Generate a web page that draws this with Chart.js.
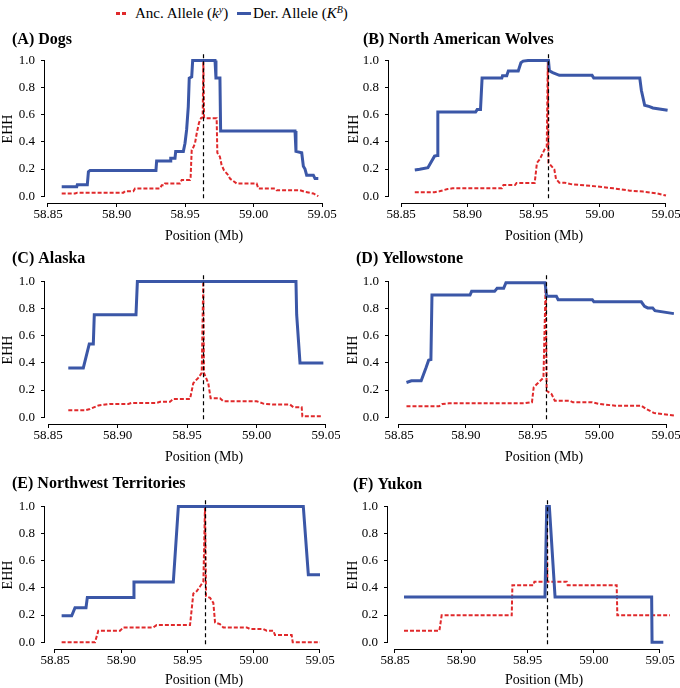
<!DOCTYPE html>
<html>
<head>
<meta charset="utf-8">
<script src="https://cdn.jsdelivr.net/npm/chart.js@4.4.0/dist/chart.umd.min.js"></script>
<style>
  html, body { margin: 0; padding: 0; background: #fff; }
  #fig { position: relative; width: 680px; height: 688px; overflow: hidden; font-family: "Liberation Serif", "Times New Roman", serif; color: #000; }
  #fig canvas { position: absolute; }
  .lg { position: absolute; white-space: nowrap; }
  .lgText { top: 3px; font-size: 15px; line-height: 20px; }
  .lgText sup { font-size: 10px; vertical-align: 5px; line-height: 0; }
  #ancKey { left: 116px; top: 12px; width: 12px; height: 2.5px;
    background: repeating-linear-gradient(90deg, #e0292b 0 4px, transparent 4px 6px); }
  #derKey { left: 237px; top: 11.5px; width: 14px; height: 3px; background: #3b57a7; }
</style>
</head>
<body>
<div id="fig">
  <div class="lg" id="ancKey"></div>
  <div class="lg lgText" style="left:135px">Anc. Allele (<i>k</i><sup><i>y</i></sup>)</div>
  <div class="lg" id="derKey"></div>
  <div class="lg lgText" style="left:253px">Der. Allele (<i>K</i><sup><i>B</i></sup>)</div>
</div>
<script>
// axis ticks
const xTicks = [58.85, 58.90, 58.95, 59.00, 59.05];
const yTicks = [0, 0.2, 0.4, 0.6, 0.8, 1.0];

const panelTitles = ['(A) Dogs', '(B) North American Wolves', '(C) Alaska',
  '(D) Yellowstone', '(E) Northwest Territories', '(F) Yukon'];
// core SNP position (dashed line), Mb
const corePos = [58.9634, 58.9608, 58.9617, 58.9599, 58.9632, 58.9650];

// (A) Dogs
const dogsDerPos = [58.860, 58.871, 58.8714, 58.8787, 58.8795, 58.8807, 58.9288, 58.9293, 58.9391, 58.9396,
  58.9427, 58.9432, 58.9488, 58.9500, 58.9512, 58.9524, 58.9531, 58.9549, 58.9556, 58.9719, 58.9726, 58.9755,
  58.9760, 59.0303, 59.0310, 59.0352, 59.0364, 59.0376, 59.0388, 59.0437, 59.0449, 59.0473];
const dogsDerEhh = [0.07, 0.07, 0.085, 0.085, 0.18, 0.19, 0.19, 0.26, 0.26, 0.28,
  0.28, 0.33, 0.33, 0.39, 0.49, 0.66, 0.87, 0.88, 1.0, 1.0, 0.87, 0.87,
  0.48, 0.48, 0.33, 0.32, 0.22, 0.20, 0.155, 0.155, 0.13, 0.13];
const dogsAncPos = [58.860, 58.8697, 58.8714, 58.9050, 58.9062, 58.9123, 58.9135, 58.9318, 58.9330, 58.9347,
  58.9354, 58.9464, 58.9476, 58.9536, 58.9541, 58.9549, 58.9561, 58.9573, 58.9585, 58.9602, 58.9617, 58.9629,
  58.9634, 58.9639, 58.9646, 58.9731, 58.9736, 58.9755, 58.9767, 58.9785, 58.9816, 58.9828, 58.9877, 59.0023,
  59.0035, 59.0157, 59.0169, 59.0339, 59.0376, 59.0437, 59.0473];
const dogsAncEhh = [0.02, 0.02, 0.025, 0.025, 0.037, 0.037, 0.057, 0.057, 0.08, 0.08,
  0.094, 0.094, 0.12, 0.12, 0.14, 0.34, 0.36, 0.39, 0.46, 0.54, 0.575, 0.58,
  1.0, 0.58, 0.575, 0.575, 0.32, 0.29, 0.23, 0.19, 0.155, 0.13, 0.094, 0.094,
  0.057, 0.057, 0.044, 0.044, 0.032, 0.02, 0.0];

// (B) North American Wolves
const nawDerPos = [58.8604, 58.8641, 58.8703, 58.8753, 58.8773, 58.8778, 58.9063, 58.9075, 58.9100, 58.9112,
  58.9261, 58.9266, 58.9298, 58.9310, 58.9385, 58.9405, 58.9422, 58.9459, 58.9613, 58.9620, 58.9645, 58.9695,
  58.9942, 58.9955, 59.0302, 59.0314, 59.0339, 59.0376, 59.0401, 59.0512];
const nawDerEhh = [0.193, 0.198, 0.21, 0.295, 0.30, 0.62, 0.62, 0.638, 0.638, 0.87,
  0.87, 0.887, 0.887, 0.923, 0.923, 0.983, 0.995, 1.0, 1.0, 0.923, 0.91, 0.89,
  0.89, 0.87, 0.87, 0.78, 0.67, 0.66, 0.65, 0.633];
const nawAncPos = [58.8604, 58.8753, 58.8790, 58.8852, 58.8889, 58.9261, 58.9273, 58.9360, 58.9372, 58.9509,
  58.9526, 58.9546, 58.9583, 58.9600, 58.9608, 58.9613, 58.9657, 58.9670, 58.9695, 58.9732, 58.9781, 58.9930,
  59.0103, 59.0227, 59.0327, 59.0426, 59.0500];
const nawAncEhh = [0.029, 0.029, 0.036, 0.053, 0.058, 0.058, 0.082, 0.082, 0.097, 0.097,
  0.246, 0.27, 0.343, 0.36, 1.0, 0.246, 0.198, 0.126, 0.10, 0.10, 0.089, 0.077,
  0.058, 0.041, 0.034, 0.022, 0.005];

// (C) Alaska
const alaskaDerPos = [58.8646, 58.8754, 58.8797, 58.8826, 58.8833, 58.9133, 58.9143, 59.0284, 59.0289, 59.0313, 59.0481];
const alaskaDerEhh = [0.363, 0.363, 0.54, 0.54, 0.755, 0.755, 1.0, 1.0, 0.755, 0.40, 0.40];
const alaskaAncPos = [58.8646, 58.8766, 58.8802, 58.8862, 58.8946, 58.9078, 58.9102, 58.9282, 58.9306, 58.9378,
  58.9401, 58.9522, 58.9545, 58.9581, 58.9606, 58.9617, 58.9622, 58.9653, 58.9670, 58.9737, 58.9761, 59.0001,
  59.0049, 59.0121, 59.0241, 59.0265, 59.0325, 59.0330, 59.0469];
const alaskaAncEhh = [0.051, 0.051, 0.061, 0.086, 0.098, 0.098, 0.105, 0.105, 0.113, 0.113,
  0.135, 0.135, 0.25, 0.29, 0.326, 1.0, 0.326, 0.25, 0.14, 0.14, 0.118, 0.118,
  0.10, 0.093, 0.093, 0.074, 0.074, 0.007, 0.007];

// (D) Yellowstone
const ystDerPos = [58.8556, 58.8593, 58.8666, 58.8703, 58.8722, 58.8739, 58.8747, 58.9032, 58.9044, 58.9216,
  58.9235, 58.9284, 58.9301, 58.9594, 58.9606, 58.9679, 58.9692, 58.9948, 58.9960, 59.0315, 59.0339, 59.0363,
  59.0400, 59.0417, 59.0559];
const ystDerEhh = [0.256, 0.268, 0.268, 0.366, 0.42, 0.425, 0.90, 0.90, 0.927, 0.927,
  0.95, 0.95, 0.99, 0.99, 0.89, 0.89, 0.866, 0.866, 0.85, 0.85, 0.817, 0.805,
  0.805, 0.785, 0.763];
const ystAncPos = [58.8556, 58.8800, 58.8825, 58.8874, 58.9435, 58.9484, 58.9496, 58.9509, 58.9533, 58.9582,
  58.9599, 58.9606, 58.9643, 58.9667, 58.9777, 58.9802, 58.9948, 58.9997, 59.0119, 59.0315, 59.0351, 59.0412, 59.0559];
const ystAncEhh = [0.08, 0.08, 0.098, 0.102, 0.102, 0.11, 0.11, 0.22, 0.244, 0.29,
  1.0, 0.195, 0.17, 0.122, 0.122, 0.11, 0.11, 0.098, 0.085, 0.085, 0.061, 0.03, 0.012];

// (E) Northwest Territories
const nwtDerPos = [58.8550, 58.8626, 58.8651, 58.8734, 58.8744, 58.9091, 58.9096, 58.9393, 58.9431, 59.0374, 59.0412, 59.0500];
const nwtDerEhh = [0.194, 0.194, 0.254, 0.254, 0.33, 0.33, 0.443, 0.443, 1.0, 1.0, 0.496, 0.496];
const nwtAncPos = [58.8550, 58.8802, 58.8827, 58.8991, 58.9016, 58.9242, 58.9267, 58.9519, 58.9544, 58.9569,
  58.9594, 58.9620, 58.9632, 58.9640, 58.9670, 58.9695, 58.9708, 58.9745, 58.9770, 58.9947, 58.9972, 59.0072,
  59.0098, 59.0148, 59.0160, 59.0286, 59.0294, 59.0500];
const nwtAncEhh = [0.0, 0.0, 0.085, 0.085, 0.109, 0.109, 0.126, 0.126, 0.358, 0.375,
  0.41, 0.448, 1.0, 0.339, 0.327, 0.29, 0.145, 0.133, 0.109, 0.109, 0.097, 0.097,
  0.085, 0.085, 0.053, 0.053, 0.0, 0.0];

// (F) Yukon
const yukonDerPos = [58.8568, 58.9632, 58.9645, 58.9665, 58.9708, 59.0437, 59.0440, 59.0525];
const yukonDerEhh = [0.333, 0.333, 1.0, 1.0, 0.333, 0.333, 0.0, 0.0];
const yukonAncPos = [58.8568, 58.8835, 58.8852, 58.9381, 58.9386, 58.9544, 58.9552, 58.9640, 58.9645, 58.9650,
  58.9796, 58.9803, 59.0173, 59.0178, 59.0575];
const yukonAncEhh = [0.084, 0.084, 0.198, 0.198, 0.42, 0.42, 0.446, 0.446, 1.0, 0.446,
  0.446, 0.42, 0.42, 0.198, 0.198];

const derPos = [dogsDerPos, nawDerPos, alaskaDerPos, ystDerPos, nwtDerPos, yukonDerPos];
const derEhh = [dogsDerEhh, nawDerEhh, alaskaDerEhh, ystDerEhh, nwtDerEhh, yukonDerEhh];
const ancPos = [dogsAncPos, nawAncPos, alaskaAncPos, ystAncPos, nwtAncPos, yukonAncPos];
const ancEhh = [dogsAncEhh, nawAncEhh, alaskaAncEhh, ystAncEhh, nwtAncEhh, yukonAncEhh];

// layout (pixels inside each 340x216 canvas)
const panelLeft = [0, 340, 0, 340, 0, 340];
const panelTop = [28, 28, 249, 249, 472, 472];
const plotTop = [27, 27, 27, 27, 29, 29];
const plotBottom = [175, 175, 175, 175, 177, 177];
const yAxisPx = [45, 49, 45, 49, 45, 48];
const tickLoPx = [48, 61, 48, 59, 55, 55];   // where 58.85 sits
const tickHiPx = [322, 326, 326, 326, 320, 320]; // where 59.05 sits
const titleX = [12, 23, 12, 16, 12, 13];
const titleY = [12, 12, 10, 10, 12, 13];
const ehhTitlePad = [0, 6, 0, 5, 0, 5];
const W = 340, H = 216;

const BLUE = '#3b57a7';
const RED = '#e0292b';
const SERIF = '"Liberation Serif", "Times New Roman", serif';

const pts = (xs, ys) => xs.map((x, i) => ({ x: x, y: ys[i] }));

const decor = {
  id: 'decor',
  afterDatasetsDraw(chart, args, opts) {
    const { ctx, chartArea, scales: { x, y } } = chart;
    ctx.save();
    // dashed core line
    ctx.strokeStyle = '#000';
    ctx.lineWidth = 1.2;
    ctx.setLineDash([4, 3]);
    const cx = Math.round(x.getPixelForValue(opts.core)) + 0.5;
    ctx.beginPath();
    ctx.moveTo(cx, y.getPixelForValue(1.045));
    ctx.lineTo(cx, y.getPixelForValue(-0.03));
    ctx.stroke();
    ctx.setLineDash([]);
    // detached axes lines
    ctx.lineWidth = 1;
    const by = chartArea.bottom + 0.5;
    ctx.beginPath();
    ctx.moveTo(x.getPixelForValue(xTicks[0]), by);
    ctx.lineTo(x.getPixelForValue(xTicks[xTicks.length - 1]), by);
    const lx = chartArea.left - 0.5;
    ctx.moveTo(lx, y.getPixelForValue(yTicks[0]));
    ctx.lineTo(lx, y.getPixelForValue(yTicks[yTicks.length - 1]));
    ctx.stroke();
    // panel title and x axis title
    ctx.fillStyle = '#000';
    ctx.textBaseline = 'middle';
    ctx.textAlign = 'left';
    ctx.font = 'bold 16px ' + SERIF;
    ctx.fillText(opts.title, opts.tx, opts.ty);
    ctx.textAlign = 'center';
    ctx.font = '14px ' + SERIF;
    ctx.fillText('Position (Mb)', 204, H - 7.5);
    ctx.restore();
  }
};

const fig = document.getElementById('fig');
for (let p = 0; p < 6; p++) {
  const cv = document.createElement('canvas');
  cv.width = W; cv.height = H;
  cv.style.left = panelLeft[p] + 'px';
  cv.style.top = panelTop[p] + 'px';
  fig.appendChild(cv);

  const k = (tickHiPx[p] - tickLoPx[p]) / (xTicks[4] - xTicks[0]);
  const xMin = xTicks[0] - (tickLoPx[p] - yAxisPx[p]) / k;
  const xMax = xTicks[0] + (W - tickLoPx[p]) / k;

  new Chart(cv, {
    type: 'scatter',
    data: {
      datasets: [
        { label: 'Der. Allele', data: pts(derPos[p], derEhh[p]), showLine: true,
          borderColor: BLUE, borderWidth: 3, pointRadius: 0, tension: 0 },
        { label: 'Anc. Allele', data: pts(ancPos[p], ancEhh[p]), showLine: true,
          borderColor: RED, borderWidth: 2, borderDash: [4, 2], pointRadius: 0, tension: 0 }
      ]
    },
    options: {
      responsive: false,
      animation: false,
      layout: { padding: { top: plotTop[p], left: 0, right: 0, bottom: 0 } },
      plugins: {
        legend: { display: false },
        tooltip: { enabled: false },
        decor: { core: corePos[p], title: panelTitles[p], tx: titleX[p], ty: titleY[p] }
      },
      scales: {
        x: {
          type: 'linear', min: xMin, max: xMax,
          afterBuildTicks: s => { s.ticks = xTicks.map(v => ({ value: v })); },
          afterFit: s => { s.height = H - plotBottom[p]; s.paddingLeft = 0; s.paddingRight = 0; },
          border: { display: false },
          grid: { drawOnChartArea: false, drawTicks: true, tickLength: 4, color: '#000', lineWidth: 1 },
          ticks: { callback: v => v.toFixed(2), font: { family: SERIF, size: 13 }, color: '#000',
            padding: 0, maxRotation: 0, autoSkip: false }
        },
        y: {
          type: 'linear', min: -0.05, max: 1.04,
          afterBuildTicks: s => { s.ticks = yTicks.map(v => ({ value: v })); },
          afterFit: s => { s.width = yAxisPx[p]; s.paddingTop = 0; s.paddingBottom = 0; },
          border: { display: false },
          grid: { drawOnChartArea: false, drawTicks: true, tickLength: 4, color: '#000', lineWidth: 1 },
          ticks: { callback: v => v.toFixed(1), font: { family: SERIF, size: 13 }, color: '#000', padding: 6 },
          title: { display: true, text: 'EHH', font: { family: SERIF, size: 14 }, color: '#000',
            padding: { top: ehhTitlePad[p], bottom: 0 } }
        }
      }
    },
    plugins: [decor]
  });
}
</script>
</body>
</html>
